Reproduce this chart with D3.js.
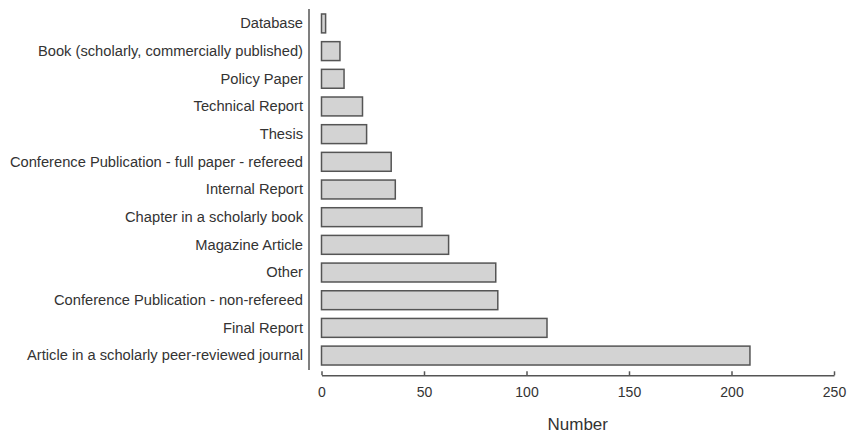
<!DOCTYPE html>
<html>
<head>
<meta charset="utf-8">
<script src="https://cdn.jsdelivr.net/npm/d3@7"></script>
<style>
  html, body { margin: 0; padding: 0; background: #fff; }
  svg { display: block; font-family: "Liberation Sans", Arial, Helvetica, sans-serif; }
</style>
</head>
<body>
<svg id="chart" width="847" height="435"></svg>
<script>
const categories = [
  "Database",
  "Book (scholarly, commercially published)",
  "Policy Paper",
  "Technical Report",
  "Thesis",
  "Conference Publication - full paper - refereed",
  "Internal Report",
  "Chapter in a scholarly book",
  "Magazine Article",
  "Other",
  "Conference Publication - non-refereed",
  "Final Report",
  "Article in a scholarly peer-reviewed journal"
];
const values = [2, 9, 11, 20, 22, 34, 36, 49, 62, 85, 86, 110, 209];
const xTicks = [0, 50, 100, 150, 200, 250];
const xTitle = "Number";

const svg = d3.select("#chart");

const x = d3.scaleLinear().domain([0, 250]).range([321.5, 834]);
const y = d3.scaleBand().domain(categories).range([9, 370])
  .paddingInner(0.317).paddingOuter(0.18);

// bars
svg.append("g").selectAll("rect")
  .data(categories)
  .join("rect")
  .attr("x", x(0))
  .attr("y", d => y(d))
  .attr("width", (d, i) => x(values[i]) - x(0))
  .attr("height", y.bandwidth())
  .attr("fill", "#d3d3d3")
  .attr("stroke", "#555")
  .attr("stroke-width", 1.5);

// y axis line (no ticks)
const yAxis = svg.append("g").attr("transform", "translate(309,0)")
  .call(d3.axisLeft(y).tickSize(0).tickPadding(6));
yAxis.select(".domain").attr("stroke", "#555").attr("stroke-width", 1.5)
  .attr("d", "M0,9V370");
yAxis.selectAll("text").attr("font-size", "14.7px").attr("fill", "#333")
  .attr("font-family", "Liberation Sans, Arial, sans-serif");

// x axis
const xAxis = svg.append("g").attr("transform", "translate(0,375.3)")
  .call(d3.axisBottom(x).tickValues(xTicks).tickSize(-4).tickSizeOuter(0).tickPadding(12));
xAxis.select(".domain").attr("stroke", "#555").attr("stroke-width", 1.5);
xAxis.selectAll(".tick line").attr("stroke", "#555").attr("stroke-width", 1.5);
xAxis.selectAll("text").attr("font-size", "14px").attr("fill", "#333")
  .attr("font-family", "Liberation Sans, Arial, sans-serif");

// x title
svg.append("text")
  .attr("x", (x(0) + x(250)) / 2)
  .attr("y", 430)
  .attr("text-anchor", "middle")
  .attr("font-size", "17px")
  .attr("fill", "#333")
  .text(xTitle);
</script>
</body>
</html>
